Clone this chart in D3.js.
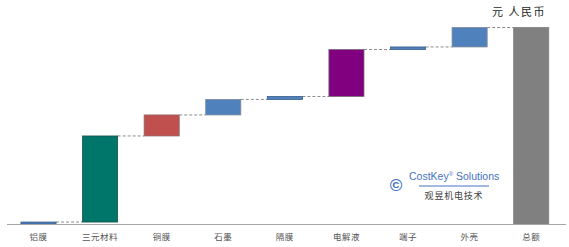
<!DOCTYPE html>
<html>
<head>
<meta charset="utf-8">
<script src="https://cdn.jsdelivr.net/npm/d3@7"></script>
<style>
  body { margin: 0; background: #fff; }
  svg { display: block; }
</style>
</head>
<body>
<div id="chart-container"></div>
<script>
// categories and cost values (元)
const categories = ['铝膜', '三元材料', '铜膜', '石墨', '隔膜', '电解液', '端子', '外壳', '总额'];
const values = [10, 438, 107, 79, 15, 239, 13, 99];
const barColors = ['#4f81bd', '#00766b', '#c0504d', '#4f81bd', '#4f81bd', '#800080', '#4f81bd', '#4f81bd', '#808080'];
const strokeColors = ['#385d8a', '#1f4f4a', '#8c6b6b', '#7f8a99', '#385d8a', '#7a6a7a', '#385d8a', '#7f8a99', '#808080'];
const unitLabel = '元 人民币';

const width = 569, height = 247;
const baseY = 224, topY = 27.5;

const svg = d3.select('#chart-container')
    .append('svg')
    .attr('width', width)
    .attr('height', height);

// build waterfall segments
let running = 0;
const segments = values.map((v, i) => {
    const seg = { cat: categories[i], start: running, end: running + v };
    running += v;
    return seg;
});
const total = running;
segments.push({ cat: categories[categories.length - 1], start: 0, end: total });

const x = d3.scaleBand()
    .domain(categories)
    .range([7.7, 562])
    .paddingInner(0.43)
    .paddingOuter(0.215);

const y = d3.scaleLinear()
    .domain([0, total])
    .range([baseY, topY]);

// connectors
segments.forEach((s, i) => {
    if (i === segments.length - 1) return;
    const next = segments[i + 1];
    svg.append('line')
        .attr('x1', x(s.cat) + x.bandwidth())
        .attr('x2', x(next.cat))
        .attr('y1', y(s.end))
        .attr('y2', y(s.end))
        .attr('stroke', '#8c8c8c')
        .attr('stroke-width', 1)
        .attr('stroke-dasharray', '3,2');
});

// bars
svg.selectAll('rect.bar')
    .data(segments)
    .enter()
    .append('rect')
    .attr('class', 'bar')
    .attr('x', d => x(d.cat))
    .attr('y', d => y(d.end))
    .attr('width', x.bandwidth())
    .attr('height', d => Math.max(1.5, y(d.start) - y(d.end)))
    .attr('fill', (d, i) => barColors[i])
    .attr('stroke', (d, i) => strokeColors[i])
    .attr('stroke-width', 0.8);

// x axis line
svg.append('line')
    .attr('x1', 7)
    .attr('x2', 566)
    .attr('y1', baseY + 0.5)
    .attr('y2', baseY + 0.5)
    .attr('stroke', '#a6a6a6')
    .attr('stroke-width', 1);

// category labels
const xAxis = d3.axisBottom(x).tickSize(0).tickPadding(10);
const axisG = svg.append('g')
    .attr('transform', `translate(0,${baseY})`)
    .call(xAxis);
axisG.select('.domain').remove();
axisG.selectAll('text')
    .style('font-family', '"Noto Sans CJK SC", sans-serif')
    .style('font-size', '8.5px')
    .style('letter-spacing', '0.5px')
    .style('fill', '#555');

// unit label
svg.append('text')
    .attr('x', 546)
    .attr('y', 16)
    .attr('text-anchor', 'end')
    .style('font-family', '"Noto Sans CJK SC", serif')
    .style('font-size', '11px')
    .style('letter-spacing', '1.5px')
    .style('fill', '#262626')
    .text(unitLabel);

// watermark
const wm = svg.append('g');
wm.append('text')
    .attr('x', 396)
    .attr('y', 191)
    .attr('text-anchor', 'middle')
    .style('font-family', 'Arial, "Liberation Sans", sans-serif')
    .style('font-size', '17px')
    .style('font-weight', 'bold')
    .style('fill', '#4472c4')
    .text('©');
wm.append('text')
    .attr('x', 409)
    .attr('y', 180)
    .style('font-family', 'Arial, "Liberation Sans", sans-serif')
    .style('font-size', '10.5px')
    .style('fill', '#4472c4')
    .html('CostKey<tspan dy="-4" font-size="6">®</tspan><tspan dy="4"> Solutions</tspan>');
wm.append('line')
    .attr('x1', 419)
    .attr('x2', 489)
    .attr('y1', 186)
    .attr('y2', 186)
    .attr('stroke', '#4472c4')
    .attr('stroke-width', 1);
wm.append('text')
    .attr('x', 454)
    .attr('y', 199)
    .attr('text-anchor', 'middle')
    .style('font-family', '"Noto Sans CJK SC", serif')
    .style('font-size', '9px')
    .style('letter-spacing', '0.8px')
    .style('fill', '#404040')
    .text('观昱机电技术');
</script>
</body>
</html>
